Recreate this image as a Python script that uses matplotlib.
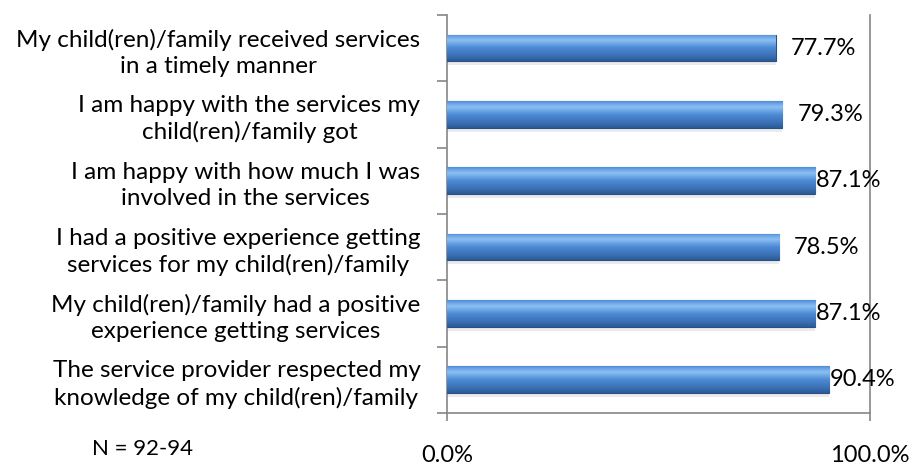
"""Horizontal bar chart of family survey agreement rates."""

import matplotlib
matplotlib.use("Agg")
import matplotlib.pyplot as plt
import numpy as np
from matplotlib.colors import LinearSegmentedColormap


# Section: Survey statements and the share of respondents who agreed.
STATEMENTS = [
    "My child(ren)/family received services\nin a timely manner",
    "I am happy with the services my\nchild(ren)/family got",
    "I am happy with how much I was\ninvolved in the services",
    "I had a positive experience getting\nservices for my child(ren)/family",
    "My child(ren)/family had a positive\nexperience getting services",
    "The service provider respected my\nknowledge of my child(ren)/family",
]
PERCENTS = [77.7, 79.3, 87.1, 78.5, 87.1, 90.4]
X_TICKS = [0, 100]
X_TICK_LABELS = ["0.0%", "100.0%"]
SAMPLE_NOTE = "N = 92-94"

FONT = "Lato"
AXIS_GRAY = "#868686"
BAR_CMAP = LinearSegmentedColormap.from_list(
    "bevel_blue",
    [(0.0, "#2c5a95"), (0.18, "#3a6fb3"), (0.5, "#4d8bd6"), (0.78, "#8cc0f2"), (0.9, "#6fa8e8"), (1.0, "#4f8cd6")],
)


# Section: Paint a vertical gradient inside each bar so it looks bevelled.
def shade_bars(ax, bars) -> None:
    gradient = np.linspace(0, 1, 64).reshape(-1, 1)
    for bar in bars:
        x0, y0 = bar.get_x(), bar.get_y()
        w, h = bar.get_width(), bar.get_height()
        img = ax.imshow(
            gradient,
            cmap=BAR_CMAP,
            aspect="auto",
            origin="upper",
            extent=(x0, x0 + w, y0, y0 + h),
            zorder=3,
            interpolation="bilinear",
        )
        img.set_clip_path(bar)


def main() -> None:
    fig = plt.figure(figsize=(9.1, 4.66), dpi=100)
    ax = fig.add_axes([0.491, 0.114, 0.465, 0.854])

    positions = np.arange(len(PERCENTS))
    bar_height = 0.4

    # soft drop shadow under each bar
    ax.barh(positions + 0.06, PERCENTS, height=bar_height, color="#000000", alpha=0.08, zorder=2)
    bars = ax.barh(positions, PERCENTS, height=bar_height, color="#4a86d0",
                   edgecolor="#2a5088", linewidth=0.8, zorder=3)
    shade_bars(ax, bars)

    for pos, value in zip(positions, PERCENTS):
        offset = 3.6 if value < 85 else 0.1
        ax.text(value + offset, pos, f"{value:.1f}%", va="center", ha="left",
                fontsize=17, family=FONT, color="#000000", zorder=4)

    ax.set_xlim(0, 100)
    ax.set_ylim(len(PERCENTS) - 0.5, -0.5)

    ax.set_yticks(positions)
    ax.set_yticklabels(STATEMENTS, fontsize=17.5, family=FONT, multialignment="center", linespacing=1.3)
    ax.set_yticks(np.arange(len(PERCENTS) + 1) - 0.5, minor=True)
    ax.tick_params(axis="y", which="major", length=0, pad=19)
    ax.tick_params(axis="y", which="minor", length=7, color=AXIS_GRAY, width=1.2)

    ax.set_xticks(X_TICKS)
    ax.set_xticklabels(X_TICK_LABELS, fontsize=17, family=FONT)
    ax.tick_params(axis="x", length=6, color=AXIS_GRAY, width=1.2, pad=17)

    for side in ("left", "bottom", "right"):
        ax.spines[side].set_color(AXIS_GRAY)
        ax.spines[side].set_linewidth(1.2)
    ax.spines["top"].set_visible(False)

    fig.text(142 / 910, 1 - 449 / 466, SAMPLE_NOTE, ha="center", va="center", fontsize=16, family=FONT)

    fig.savefig("out.png", dpi=100)
    plt.close(fig)


if __name__ == "__main__":
    main()
